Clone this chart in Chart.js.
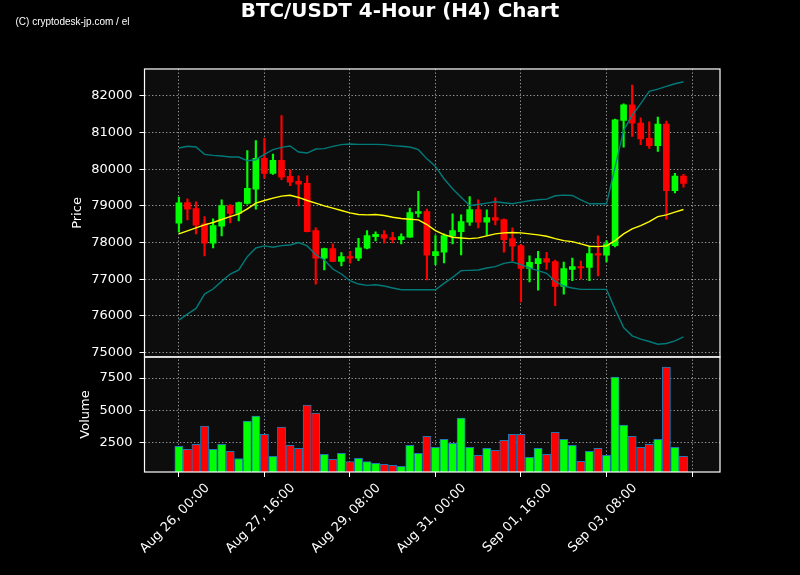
<!DOCTYPE html>
<html><head><meta charset="utf-8">
<script src="https://cdn.jsdelivr.net/npm/chart.js@4.4.1/dist/chart.umd.min.js"></script>
<style>html,body{margin:0;padding:0;background:#000;}canvas{display:block}</style>
</head><body>
<canvas id="c" width="800" height="575"></canvas>
<script>
// ---- data ----
const opens  = [78526,79091,78927,78508,77980,78444,79009,78790,79064,79455,80293,79884,80239,79802,79665,79610,78326,77570,77834,77488,77615,77570,77843,78162,78217,78135,78080,78144,78790,78845,77643,77734,78180,78298,78554,78900,78554,78681,78627,78107,77916,77297,77424,77561,77479,76805,77269,77342,77324,77698,77652,77916,81326,81754,81253,80840,80639,81226,79410,79811];
const highs  = [79237,79191,79109,78708,78645,79164,79036,79100,80503,80776,80840,80412,81460,79984,79820,79820,78399,77850,77962,77726,77763,78117,78326,78289,78326,78280,78235,78936,79392,78909,78189,78235,78781,78754,79255,79164,78891,79219,78645,78399,77943,77634,77761,77734,77524,77470,77579,77497,77871,78180,78053,81362,81781,82292,81399,81289,81417,81308,79884,79857];
const lows   = [78280,78617,78235,77634,77852,78180,78535,78590,79046,78909,79747,79856,79711,79547,79000,78290,76868,77251,77480,77361,77434,77506,77825,78043,77980,77989,77962,78140,78690,76978,77397,77442,77962,77661,78463,78399,78198,78481,77734,77506,76380,76923,76704,77269,76276,76595,76959,77005,76959,77087,77470,77880,80597,80895,80667,80566,80485,78636,79355,79510];
const closes = [79082,78909,78472,77980,78463,79009,78790,79091,79474,80293,79884,80239,79784,79647,79592,78298,77570,77834,77488,77615,77570,77852,78189,78226,78117,78080,78162,78818,78845,77652,77752,78189,78326,78572,78900,78554,78681,78608,78080,77898,77297,77463,77561,77461,76805,77287,77342,77306,77698,77652,77962,81344,81754,81253,80822,80639,81226,79410,79811,79611];
const volumes = [2187,1953,2344,3750,1953,2344,1797,1224,4141,4531,3125,1406,3672,2266,2031,5391,4766,1563,1172,1641,990,1250,990,859,781,703,625,2266,1641,2969,2109,2734,2422,4375,2109,1484,2031,1875,2656,3125,3125,1328,2031,1563,3281,2734,2266,1016,1797,2031,1484,7578,3828,2969,2109,2344,2734,8359,2109,1406];
const sma20   = [78235,78317,78399,78481,78545,78627,78708,78781,78918,79073,79146,79210,79264,79287,79228,79146,79073,79000,78936,78872,78809,78763,78754,78763,78736,78690,78654,78636,78617,78490,78326,78217,78144,78125,78107,78125,78180,78235,78262,78271,78262,78235,78207,78171,78107,78053,78025,77962,77898,77889,77907,78053,78235,78372,78463,78572,78708,78754,78827,78900];
const bbUpper = [80576,80622,80603,80403,80376,80357,80330,80330,80230,80257,80403,80530,80594,80631,80467,80439,80549,80558,80622,80667,80685,80676,80676,80676,80667,80640,80622,80603,80530,80280,80075,79738,79465,79237,79009,79036,79073,79109,79082,79055,79100,79137,79164,79182,79273,79292,79282,79164,79055,79055,79055,80057,81059,81469,81788,82118,82182,82255,82328,82383];
const bbLower = [75884,76048,76203,76595,76732,76941,77142,77251,77615,77852,77907,77870,77916,77934,77998,77907,77670,77524,77278,77142,76959,76868,76832,76850,76814,76759,76713,76713,76713,76713,76713,76887,77050,77233,77242,77251,77306,77342,77433,77470,77397,77306,77233,77160,76941,76814,76759,76723,76723,76723,76723,76185,75684,75456,75365,75301,75229,75247,75320,75429];
const xTickIndex  = [0,10,20,30,40,50,60];
const xTickLabels = ['Aug 26, 00:00','Aug 27, 16:00','Aug 29, 08:00','Aug 31, 00:00','Sep 01, 16:00','Sep 03, 08:00',''];
const priceTicks  = [75000,76000,77000,78000,79000,80000,81000,82000];
const volumeTicks = [2500,5000,7500];

// ---- styling ----
const UP = '#00ff00', DOWN = '#ff0000';
const dirColor = i => closes[i] >= opens[i] ? UP : DOWN;
const FONT = 'DejaVu Sans';
const GRID = 'rgba(190,190,190,0.8)';
const DASH = [1.3, 2.2];
const gridOpts = {color: GRID, lineWidth: 1, tickColor: '#ffffff', tickLength: 5, tickBorderDash: [], tickWidth: 1, offset: false};
const borderOpts = {display: false, dash: DASH};

const idx = opens.map((_, i) => i);

const bgPlugin = {
  id: 'panels',
  beforeDraw(chart) {
    const {ctx, chartArea: a, scales} = chart;
    ctx.save();
    ctx.fillStyle = '#000';
    ctx.fillRect(0, 0, chart.width, chart.height);
    ctx.fillStyle = '#0d0d0d';
    ctx.fillRect(a.left, a.top, a.right - a.left, a.bottom - a.top);
    ctx.restore();
  },
  afterDraw(chart) {
    const {ctx, chartArea: a, scales} = chart;
    ctx.save();
    ctx.strokeStyle = '#ffffff';
    ctx.lineWidth = 1.2;
    ctx.strokeRect(a.left, scales.yP.top, a.right - a.left, scales.yP.bottom - scales.yP.top);
    ctx.strokeRect(a.left, scales.yV.top, a.right - a.left, scales.yV.bottom - scales.yV.top);
    ctx.fillStyle = '#ffffff';
    ctx.font = '10px "Liberation Sans"';
    ctx.textBaseline = 'alphabetic';
    ctx.fillText('(C) cryptodesk-jp.com / el', 15.5, 24.5);
    ctx.restore();
  }
};

new Chart(document.getElementById('c'), {
  type: 'bar',
  data: {
    datasets: [
      {type: 'line', label: 'SMA', yAxisID: 'yP', data: idx.map(i => ({x: i, y: sma20[i]})),
       borderColor: '#ffff00', borderWidth: 1.4, pointRadius: 0, tension: 0, order: 0},
      {type: 'line', label: 'Upper', yAxisID: 'yP', data: idx.map(i => ({x: i, y: bbUpper[i]})),
       borderColor: 'rgba(0,128,128,0.95)', borderWidth: 1.4, pointRadius: 0, tension: 0, order: 1},
      {type: 'line', label: 'Lower', yAxisID: 'yP', data: idx.map(i => ({x: i, y: bbLower[i]})),
       borderColor: 'rgba(0,128,128,0.95)', borderWidth: 1.4, pointRadius: 0, tension: 0, order: 1},
      {label: 'Body', yAxisID: 'yP', data: idx.map(i => ({x: i, y: [opens[i], closes[i]]})),
       backgroundColor: idx.map(dirColor), barThickness: 6, minBarLength: 1, order: 2},
      {label: 'Wick', yAxisID: 'yP', data: idx.map(i => ({x: i, y: [lows[i], highs[i]]})),
       backgroundColor: idx.map(dirColor), barThickness: 1.5, order: 3},
      {label: 'Volume', yAxisID: 'yV', data: idx.map(i => ({x: i, y: volumes[i]})),
       backgroundColor: idx.map(dirColor), borderColor: '#1f77b4', borderWidth: 1, borderSkipped: false,
       barThickness: 8.2, order: 4}
    ]
  },
  options: {
    responsive: false, animation: false, devicePixelRatio: 1,
    datasets: {bar: {grouped: false}},
    layout: {padding: {left: 0, right: 0, top: 0, bottom: 0}},
    plugins: {
      legend: {display: false}, tooltip: {enabled: false},
      title: {display: true, text: 'BTC/USDT 4-Hour (H4) Chart', color: '#ffffff',
              font: {family: FONT, size: 19.9, weight: 'bold'}, padding: {top: 0, bottom: 45.1}}
    },
    scales: {
      x: {type: 'linear', position: 'bottom', min: -4.02, max: 63.27, offset: false,
          afterBuildTicks: s => { s.ticks = xTickIndex.map(v => ({value: v})); },
          afterFit: s => { s.height = 103; },
          ticks: {color: '#ffffff', font: {family: FONT, size: 13}, autoSkip: false,
                  minRotation: 45, maxRotation: 45, labelOffset: 28.5, padding: 3.5,
                  callback: (v) => xTickLabels[xTickIndex.indexOf(v)]},
          grid: gridOpts, border: borderOpts},
      yV: {type: 'linear', position: 'left', stack: 'panels', stackWeight: 1,
           min: 182, max: 9141,
           afterBuildTicks: s => { s.ticks = volumeTicks.map(v => ({value: v})); },
           afterFit: s => { s.width = 144.5; },
           ticks: {color: '#ffffff', font: {family: FONT, size: 13}, padding: 7, callback: v => String(v)},
           title: {display: true, text: 'Volume', color: '#ffffff', font: {family: FONT, size: 13}, padding: {top: 78.2, bottom: 0}},
           grid: gridOpts, border: borderOpts},
      yP: {type: 'linear', position: 'left', stack: 'panels', stackWeight: 2.504,
           min: 74880, max: 82730,
           afterBuildTicks: s => { s.ticks = priceTicks.map(v => ({value: v})); },
           afterFit: s => { s.width = 144.5; },
           ticks: {color: '#ffffff', font: {family: FONT, size: 13}, padding: 7, callback: v => String(v)},
           title: {display: true, text: 'Price', color: '#ffffff', font: {family: FONT, size: 13}, padding: {top: 69.5, bottom: 0}},
           grid: gridOpts, border: borderOpts},
      yR: {type: 'linear', position: 'right', display: true,
           afterFit: s => { s.width = 80; },
           ticks: {display: false}, grid: {display: false, drawOnChartArea: false, drawTicks: false},
           border: {display: false}}
    }
  },
  plugins: [bgPlugin]
});
</script>
</body></html>
